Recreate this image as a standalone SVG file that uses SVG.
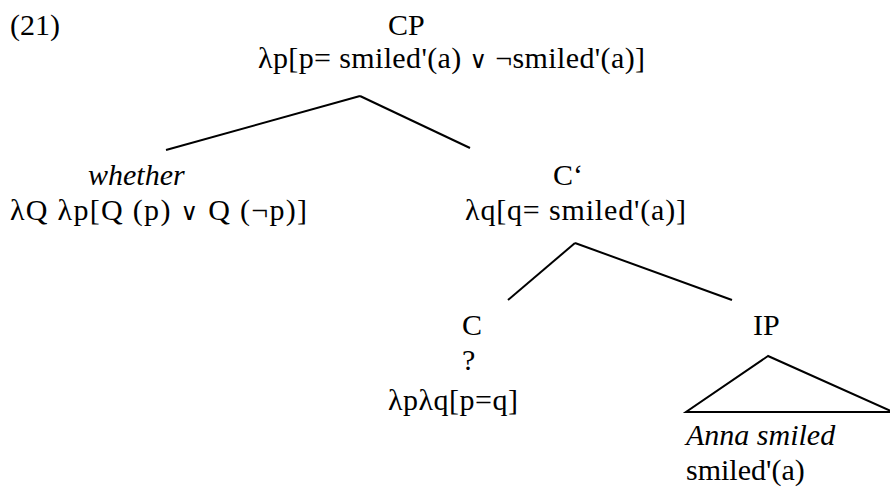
<svg xmlns="http://www.w3.org/2000/svg" width="890" height="488" viewBox="0 0 890 488">
<style>
text{font-family:"Liberation Serif","Times New Roman","DejaVu Serif",serif;font-size:30px;fill:#000}
.it{font-style:italic}
.or{font-family:"DejaVu Serif","DejaVu Sans",serif;font-size:24px}
.ln{stroke:#000;stroke-width:2;fill:none}
</style>
<rect width="890" height="488" fill="#fff"/>
<text x="10" y="35">(21)</text>
<g id="CP"><text x="388" y="35">CP</text><text x="258" y="68" textLength="387" lengthAdjust="spacing">λp[p= smiled'(a) <tspan class="or">∨</tspan> ¬smiled'(a)]</text></g>
<g id="whether"><text class="it" x="88" y="185">whether</text><text x="10" y="220" textLength="297" lengthAdjust="spacing">λQ λp[Q (p) <tspan class="or">∨</tspan> Q (¬p)]</text></g>
<g id="Cbar"><text x="553" y="185">C‘</text><text x="465" y="220" textLength="221" lengthAdjust="spacing">λq[q= smiled'(a)]</text></g>
<g id="C"><text x="462" y="335">C</text><text x="462" y="370">?</text><text x="388" y="410" textLength="130" lengthAdjust="spacing">λpλq[p=q]</text></g>
<g id="IP"><text x="753" y="335">IP</text><polygon class="ln" points="768,356 686,412 893,412"/><text class="it" x="686" y="445">Anna smiled</text><text x="686" y="480">smiled'(a)</text></g>
<g id="connectors">
<line class="ln" x1="360" y1="96" x2="166" y2="150"/>
<line class="ln" x1="360" y1="96" x2="470" y2="148"/>
<line class="ln" x1="575" y1="243" x2="508" y2="300"/>
<line class="ln" x1="575" y1="243" x2="732" y2="300"/>
</g>
</svg>
